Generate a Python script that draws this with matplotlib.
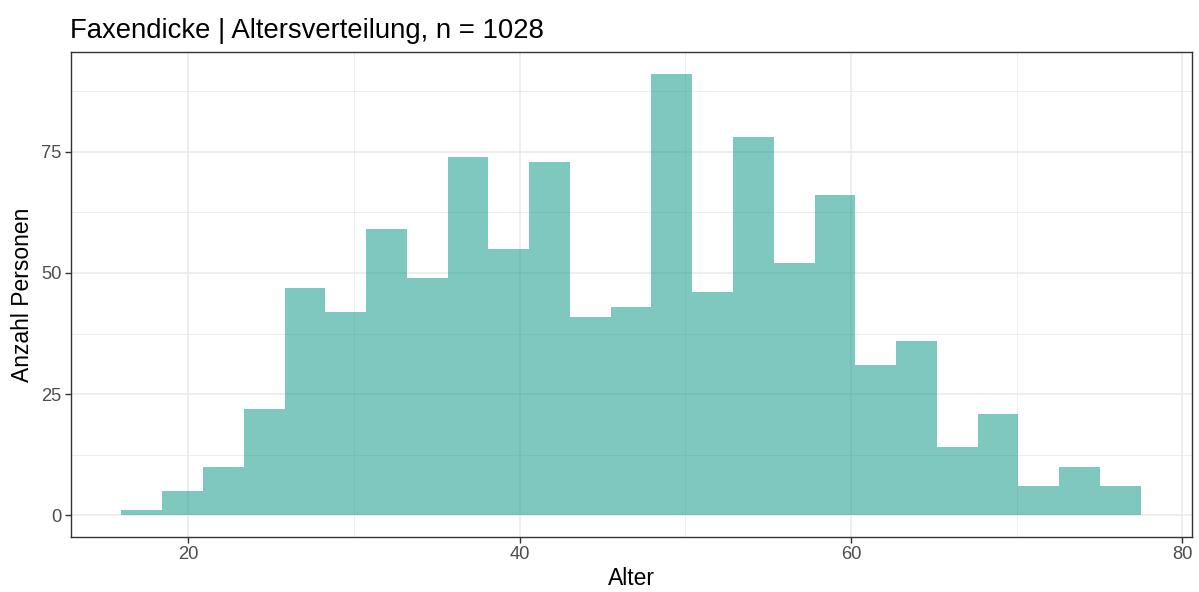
import numpy as np
import matplotlib
matplotlib.use("Agg")
import matplotlib.pyplot as plt

plt.rcParams['font.family'] = ['Liberation Sans', 'DejaVu Sans']

# Histogramm: Anzahl Personen je Altersklasse (25 Klassen)
counts = [1, 5, 10, 22, 47, 42, 59, 49, 74, 55, 73, 41, 43, 91, 46,
          78, 52, 66, 31, 36, 14, 21, 6, 10, 6]
bin_start = 15.96
bin_width = 2.461
x_ticks = [20, 40, 60, 80]
y_ticks = [0, 25, 50, 75]
title = "Faxendicke | Altersverteilung, n = 1028"

edges = bin_start + bin_width * np.arange(len(counts) + 1)

fig = plt.figure(figsize=(11.99, 5.92), dpi=100)
ax = fig.add_axes([70.5/1199, (592-537.3)/592, (1191.7-70.5)/1199, (537.3-52.3)/592])

ax.bar(edges[:-1], counts, width=bin_width, align='edge',
       color=(0/255, 147/255, 131/255), alpha=0.5, linewidth=0, zorder=3)

# Achsen wie ggplot (5% Erweiterung)
span = edges[-1] - edges[0]
ax.set_xlim(edges[0] - 0.05*span, edges[-1] + 0.05*span)
top = max(counts)
ax.set_ylim(-0.05*top, top*1.05)

ax.set_xticks(x_ticks)
ax.set_yticks(y_ticks)
ax.set_xticks([30, 50, 70], minor=True)
ax.set_yticks([12.5, 37.5, 62.5, 87.5], minor=True)
ax.grid(which='major', color='#EBEBEB', linewidth=1.2, zorder=0)
ax.grid(which='minor', color='#EBEBEB', linewidth=0.6, zorder=0)
ax.set_axisbelow(True)

for s in ax.spines.values():
    s.set_color('#333333')
    s.set_linewidth(1.0)
ax.tick_params(which='major', length=4, width=1.0, color='#333333',
               labelcolor='#4D4D4D', labelsize=13.2, pad=2.5)
ax.tick_params(which='minor', length=0)

ax.set_xlabel("Alter", fontsize=16.5, labelpad=3)
ax.set_ylabel("Anzahl Personen", fontsize=16.5, labelpad=5)
ax.set_title(title, loc='left', fontsize=19.8, pad=10)

fig.savefig("out.png", dpi=100)
